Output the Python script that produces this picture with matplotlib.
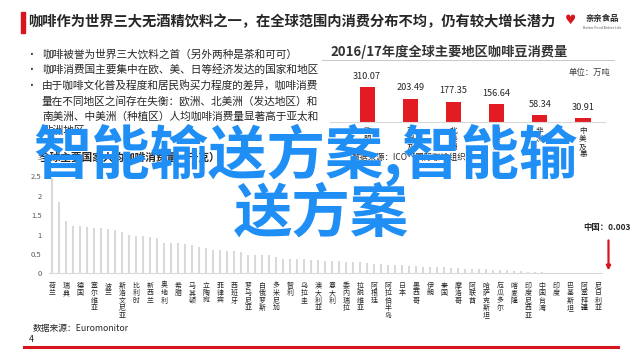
import numpy as np
import matplotlib.pyplot as plt
from matplotlib.lines import Line2D
from matplotlib.patches import Rectangle

plt.rcParams['font.family'] = ['Noto Sans CJK SC', 'DejaVu Sans']

W, H = 640, 359

def fx(x):
    return x / W

def fy(y):
    return 1 - y / H

# ---- data ----
title = "咖啡作为世界三大无酒精饮料之一，在全球范围内消费分布不均，仍有较大增长潜力"
bullets = [
    "咖啡被誉为世界三大饮料之首（另外两种是茶和可可）",
    "咖啡消费国主要集中在欧、美、日等经济发达的国家和地区",
    "由于咖啡文化普及程度和居民购买力程度的差异，咖啡消费\n量在不同地区之间存在失衡：欧洲、北美洲（发达地区）和\n南美洲、中美洲（种植区）人均咖啡消费量显著高于亚太和\n非洲地区",
]

region_names = ["欧盟", "亚洲及大洋洲", "北美洲", "南美洲", "非洲", "中美及墨西哥"]
region_values = [310.07, 203.49, 177.35, 156.64, 58.34, 30.91]

country_labels = ["荷兰", "瑞典", "德国", "塞尔维亚", "波兰", "斯洛文尼亚", "比利时", "新西兰",
                  "奥地利", "希腊", "马其顿", "立陶宛", "菲律宾", "西班牙", "罗马尼亚", "白俄罗斯",
                  "多米尼加", "智利", "乌拉圭", "澳大利亚", "意大利", "委内瑞拉", "拉脱维亚", "阿根廷",
                  "阿拉伯半岛", "日本", "墨西哥", "伊朗", "泰国", "摩洛哥", "阿联酋", "哈萨克斯坦",
                  "厄瓜多尔", "喀麦隆", "印度尼西亚", "中国台湾", "印度", "巴基斯坦", "阿塞拜疆", "尼日利亚"]
per_capita = [2.45, 1.84, 1.35, 1.23, 1.23, 1.19, 1.16, 1.16, 1.13, 1.12,
              1.06, 0.99, 0.96, 0.96, 0.93, 0.92, 0.79, 0.79, 0.77, 0.75,
              0.73, 0.68, 0.65, 0.60, 0.60, 0.57, 0.57, 0.54, 0.48, 0.47,
              0.47, 0.46, 0.42, 0.38, 0.38, 0.38, 0.38, 0.35, 0.34, 0.32,
              0.32, 0.32, 0.30, 0.30, 0.28, 0.26, 0.24, 0.24, 0.22, 0.21,
              0.21, 0.19, 0.19, 0.17, 0.16, 0.16, 0.16, 0.14, 0.13, 0.12,
              0.12, 0.10, 0.10, 0.09, 0.09, 0.08, 0.07, 0.05, 0.04, 0.035,
              0.03, 0.02, 0.012, 0.01, 0.008, 0.006, 0.005, 0.004, 0.004]
china_value = 0.003

overlay_1 = "智能输送方案,智能输"
overlay_2 = "送方案"

red = '#d7151f'
dark = '#262626'

fig = plt.figure(figsize=(6.4, 3.59), dpi=100)

# ---- header ----
fig.patches.append(Rectangle((fx(21), fy(33)), 4 / W, 21 / H, transform=fig.transFigure,
                             color=red, zorder=3))
fig.text(fx(28), fy(22), title, fontsize=10.3, fontweight='bold', color=dark, va='center')
fig.text(fx(571), fy(21), "♥", fontsize=9, color=red, ha='center', va='center',
         family=['DejaVu Sans'])
fig.text(fx(602), fy(19), "亲亲食品", fontsize=6, fontweight='bold', color=dark,
         ha='center', va='center')
fig.text(fx(602), fy(28), "Better Food Better Life", fontsize=2.6, color='#555555',
         ha='center', va='center')

# ---- left bullets ----
y_pos = [55, 70, 86]
for y, txt in zip(y_pos, bullets):
    fig.text(fx(31), fy(y), "•", fontsize=7, color=dark, va='center', ha='center')
    fig.text(fx(42), fy(y - 6), txt, fontsize=7.7, color=dark, va='top', linespacing=1.55)
fig.text(fx(40), fy(158), "全球主要国家人均咖啡消费量（千克）", fontsize=7.7, fontweight='bold',
         color=dark, va='center')

# ---- top right chart ----
fig.text(fx(330), fy(52), "2016/17年度全球主要地区咖啡豆消费量", fontsize=9.5,
         fontweight='bold', color='#333333', va='center')
fig.add_artist(Line2D([fx(322), fx(614)], [fy(60), fy(60)], color='#bfbfbf', lw=0.6))
fig.text(fx(610), fy(72), "单位：万吨", fontsize=6, color='#404040', ha='right', va='center')

ax1 = fig.add_axes([fx(330), fy(121.7), (605 - 330) / W, 61 / H])
xr = np.arange(len(region_values))
ax1.bar(xr, region_values, width=0.35, color='#e31c23')
ax1.set_xlim(-0.86, 5.51)
ax1.set_ylim(0, 550)
for i, v in enumerate(region_values):
    ax1.text(i, v + 60, f"{v:.2f}", fontsize=6.6, ha='center', va='bottom', color=dark)
ax1.set_yticks([])
ax1.set_xticks(xr)
ax1.set_xticklabels(["\n".join(n) for n in region_names], fontsize=5.5, color=dark,
                    linespacing=0.95, va='top')
ax1.tick_params(axis='x', length=0, pad=4)
for s in ['top', 'right', 'left']:
    ax1.spines[s].set_visible(False)
ax1.spines['bottom'].set_color('#d9d9d9')
fig.text(fx(352), fy(157), "数据来源：ICO（国际咖啡组织）", fontsize=6, color=dark, va='center')

# ---- bottom chart ----
ax2 = fig.add_axes([fx(48.5), fy(273.3), 553 / W, (273.3 - 157) / H])
xc = np.arange(len(per_capita))
ax2.bar(xc, per_capita, width=0.3, color='#d9d9d9')
ax2.set_xlim(-0.5, len(per_capita) - 0.5)
ax2.set_ylim(0, 3)
ax2.set_yticks([0, 0.5, 1, 1.5, 2, 2.5, 3])
ax2.set_yticklabels(["0", "0.5", "1", "1.5", "2", "2.5", "3"], fontsize=5.5, color='#595959')
ax2.set_xticks(xc[::2])
ax2.set_xticklabels(["\n".join(n) for n in country_labels], fontsize=5, color=dark,
                    linespacing=0.92, va='top')
ax2.tick_params(axis='x', length=0, pad=6)
ax2.tick_params(axis='y', length=0, pad=5)
for s in ['top', 'right', 'left']:
    ax2.spines[s].set_visible(False)
ax2.spines['bottom'].set_color('#d9d9d9')

ax2.annotate("", xy=(79.5, china_value), xytext=(79.5, 0.92),
             arrowprops=dict(arrowstyle='-|>', color=red, lw=1.6, mutation_scale=6),
             annotation_clip=False)
ax2.text(79.3, 1.17, "中国：0.003", fontsize=6, fontweight='bold', color=dark,
         ha='center', va='center', clip_on=False)

# ---- footer ----
fig.text(fx(33), fy(328), "数据来源：Euromonitor", fontsize=6.3, color=dark, va='center')
fig.text(fx(29), fy(340), "4", fontsize=6.5, color=dark, va='center')
fig.add_artist(Line2D([fx(24), fx(618)], [fy(346.5), fy(346.5)], color=red, lw=2.2))

# ---- overlay ----
fig.text(fx(305), fy(156), overlay_1, fontsize=42, fontweight='bold', color='#1f8ef5',
         ha='center', va='center', zorder=10)
fig.text(fx(321), fy(215), overlay_2, fontsize=42, fontweight='bold', color='#1f8ef5',
         ha='center', va='center', zorder=10)

fig.savefig('out.png', dpi=100, facecolor='white')
